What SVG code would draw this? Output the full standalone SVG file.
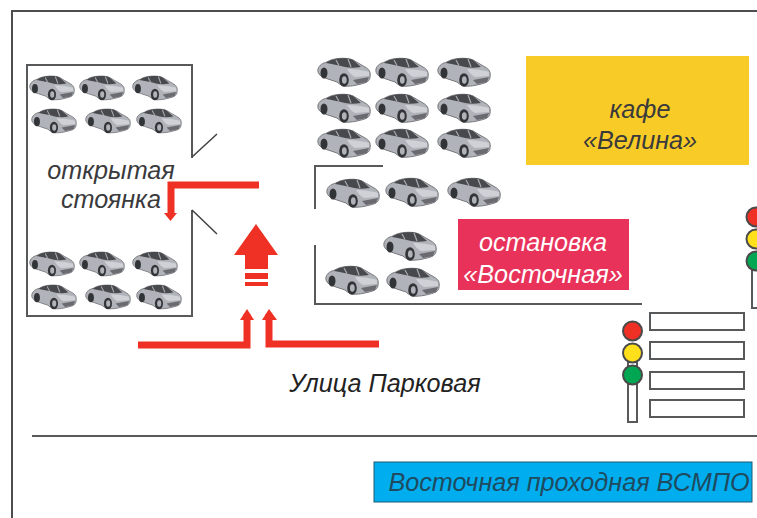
<svg xmlns="http://www.w3.org/2000/svg" xmlns:xlink="http://www.w3.org/1999/xlink" width="757" height="518" viewBox="0 0 757 518">
<style>
.ln{fill:none;stroke:#58595b;stroke-width:2}
.fr{fill:none;stroke:#4d4d4f;stroke-width:2}
.red{fill:#ee3124}
.rl{fill:none;stroke:#ee3124;stroke-width:7}
.t{font-family:"Liberation Sans",Arial,sans-serif;font-style:italic;font-size:25.200px;text-anchor:middle}
.cw{fill:#fff;stroke:#58595b;stroke-width:2}
.lamp{stroke:#4a4a4a;stroke-width:2}
</style>
<defs>
<filter id="soft" x="-10%" y="-10%" width="120%" height="120%"><feGaussianBlur stdDeviation="0.6"/></filter>
<g id="car" filter="url(#soft)">
<path d="M1 12C2 8 6 6 10 5C15 1 30 0 36 3C40 5 44 8 48 10C52 12 54 15 53 20C53 24 49 26 44 27C40 28 36 29 33 29C27 30 23 28 20 25L11 22C4 20 0 17 1 12Z" fill="#b0b3b9" stroke="#77787c" stroke-width="1"/>
<path d="M9 6C15 1 30 0 36 3L44 10C38 11 33 11 28 10C21 8 15 7 9 6Z" fill="#47484d"/>
<path d="M19 3L22 8.500M31 2L34 10" stroke="#a9acb2" stroke-width="1.200"/>
<path d="M30 12C37 12 46 13 52 15L52 19L38 20C34 18 32 15 30 12Z" fill="#cfd1d6"/>
<path d="M36 23L52 20L50 25L40 27Z" fill="#6a6b70"/>
<ellipse cx="7" cy="16" rx="3.500" ry="5.500" fill="#333438"/>
<ellipse cx="27" cy="23" rx="4.800" ry="6.800" fill="#333438"/>
<ellipse cx="27.300" cy="23" rx="2.400" ry="3.800" fill="#b0b3b9"/>
</g>
</defs>

<g id="frame"><path class="fr" d="M12 518V11H757"/></g>
<g id="road"><path d="M32 436H757" fill="none" stroke="#58595b" stroke-width="2"/></g>

<g id="parking-walls">
<path class="ln" d="M192 158V65H27V316H192V210"/>
<path d="M192 157L217 134M192 210L217 234" fill="none" stroke="#414042" stroke-width="1.500"/>
</g>
<g id="lot-walls">
<path class="ln" d="M383 166H315V209"/>
<path class="ln" d="M315 245V304H642"/>
</g>

<g id="cars-left-top">
<use xlink:href="#car" transform="translate(29 75) scale(.85)"/>
<use xlink:href="#car" transform="translate(79 75) scale(.85)"/>
<use xlink:href="#car" transform="translate(132 75) scale(.85)"/>
<use xlink:href="#car" transform="translate(31 108) scale(.85)"/>
<use xlink:href="#car" transform="translate(85 108) scale(.85)"/>
<use xlink:href="#car" transform="translate(136 108) scale(.85)"/>
</g>
<g id="cars-left-bottom">
<use xlink:href="#car" transform="translate(29 251) scale(.85)"/>
<use xlink:href="#car" transform="translate(79 251) scale(.85)"/>
<use xlink:href="#car" transform="translate(132 251) scale(.85)"/>
<use xlink:href="#car" transform="translate(31 284) scale(.85)"/>
<use xlink:href="#car" transform="translate(85 284) scale(.85)"/>
<use xlink:href="#car" transform="translate(136 284) scale(.85)"/>
</g>
<g id="cars-right-top">
<use xlink:href="#car" transform="translate(317 57)"/>
<use xlink:href="#car" transform="translate(375 57)"/>
<use xlink:href="#car" transform="translate(437 57)"/>
<use xlink:href="#car" transform="translate(317 93)"/>
<use xlink:href="#car" transform="translate(375 93)"/>
<use xlink:href="#car" transform="translate(437 93)"/>
<use xlink:href="#car" transform="translate(317 128)"/>
<use xlink:href="#car" transform="translate(375 128)"/>
<use xlink:href="#car" transform="translate(437 128)"/>
</g>
<g id="cars-right-bottom">
<use xlink:href="#car" transform="translate(326 178)"/>
<use xlink:href="#car" transform="translate(385 177)"/>
<use xlink:href="#car" transform="translate(447 177)"/>
<use xlink:href="#car" transform="translate(383 231)"/>
<use xlink:href="#car" transform="translate(325 265)"/>
<use xlink:href="#car" transform="translate(386 267)"/>
</g>

<g id="label-parking">
<text class="t" fill="#3a3a3c" x="111" y="179">открытая</text>
<text class="t" fill="#3a3a3c" x="111" y="208">стоянка</text>
</g>

<g id="cafe">
<rect x="526" y="56" width="223" height="109" fill="#f9cb27"/>
<text class="t" fill="#3a3a3c" x="640" y="118">кафе</text>
<text class="t" fill="#3a3a3c" x="640" y="149">«Велина»</text>
</g>
<g id="stop">
<rect x="458" y="219" width="171" height="71" fill="#e8325a"/>
<text class="t" fill="#fff" x="543" y="251">остановка</text>
<text class="t" fill="#fff" x="543" y="283">«Восточная»</text>
</g>
<g id="street-label"><text class="t" fill="#222" x="385" y="392">Улица Парковая</text></g>
<g id="gate">
<rect x="374" y="462" width="378" height="40" fill="#00aeef" stroke="#1f5a70" stroke-width="1"/>
<text class="t" fill="#1f4a5f" x="569" y="491">Восточная проходная ВСМПО</text>
</g>

<g id="connectors">
<path class="rl" d="M259 185H171V214"/>
<path class="red" d="M164 213H177L170.500 221Z"/>
<path class="red" d="M256 224L234 255H245V269H268V255H278Z"/>
<rect class="red" x="245" y="273" width="23" height="6"/>
<rect class="red" x="245" y="282" width="23" height="4"/>
<path class="rl" d="M138 345H247V314"/>
<path class="red" d="M240 320L247 309L254 320Z"/>
<path class="rl" d="M379 344H269V314"/>
<path class="red" d="M262 320L269 309L277 320Z"/>
</g>

<g id="crosswalk">
<rect class="cw" x="650" y="313" width="94" height="17"/>
<rect class="cw" x="650" y="342" width="94" height="17"/>
<rect class="cw" x="650" y="372" width="94" height="17"/>
<rect class="cw" x="650" y="400" width="94" height="17"/>
</g>
<g id="light-1">
<rect class="cw" x="628" y="360" width="9" height="62"/>
<circle class="lamp" cx="632.500" cy="331" r="9.500" fill="#ee3124"/>
<circle class="lamp" cx="632.500" cy="353" r="9.500" fill="#ffe01a"/>
<circle class="lamp" cx="632.500" cy="375" r="9.500" fill="#00a651"/>
</g>
<g id="light-2">
<rect class="cw" x="752" y="260" width="12" height="48"/>
<circle class="lamp" cx="756" cy="217" r="9.500" fill="#ee3124"/>
<circle class="lamp" cx="756" cy="239" r="9.500" fill="#ffe01a"/>
<circle class="lamp" cx="756" cy="261" r="9.500" fill="#00a651"/>
</g>
</svg>
